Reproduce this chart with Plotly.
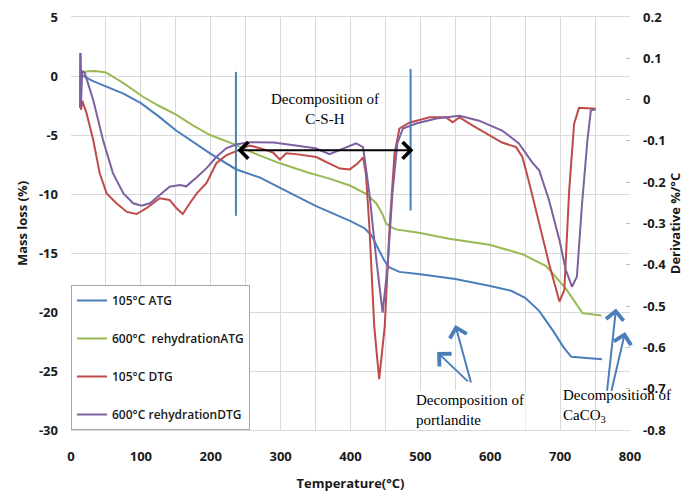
import plotly.graph_objects as go

# --- Data ---
atg105_x = [13, 15, 30, 50, 75, 100, 125, 150, 175, 200, 236, 270, 300, 350, 400, 420,
            430, 440, 448, 455, 470, 500, 550, 600, 630, 650, 670, 690, 705, 716, 740, 760]
atg105_y = [0.2, 0.1, -0.4, -0.9, -1.5, -2.3, -3.4, -4.6, -5.6, -6.6, -7.9, -8.6, -9.5,
            -11.0, -12.3, -12.9, -13.5, -14.6, -15.6, -16.2, -16.6, -16.8, -17.2, -17.8,
            -18.2, -18.8, -19.9, -21.6, -23.0, -23.8, -23.9, -24.0]

atg600_x = [13, 15, 25, 35, 50, 75, 103, 125, 151, 175, 199, 234, 260, 299, 340, 370, 400,
            423, 437, 445, 451, 458, 465, 500, 541, 599, 646, 680, 708, 732, 759]
atg600_y = [0.2, 0.3, 0.4, 0.42, 0.3, -0.6, -1.76, -2.5, -3.3, -4.2, -5.0, -5.8, -6.5, -7.4,
            -8.2, -8.7, -9.3, -10.0, -10.8, -11.6, -12.5, -12.8, -13.0, -13.3, -13.8, -14.3,
            -15.1, -16.1, -18.0, -20.1, -20.3]

dtg105_x = [13, 13.5, 14.5, 16, 22, 32, 41, 51, 65, 80, 94, 108, 127, 141, 151, 160, 170,
            180, 194, 208, 222, 237, 256, 275, 289, 299, 308, 322, 351, 370, 385, 399, 410,
            418, 422, 427, 434, 441, 449, 456, 463, 470, 484, 513, 527, 537, 546, 556, 575,
            599, 617, 637, 646, 656, 670, 684, 699, 706, 713, 720, 727, 751]
dtg105_y = [-0.02, 0.113, -0.025, -0.003, -0.031, -0.099, -0.178, -0.227, -0.251, -0.272,
            -0.277, -0.263, -0.239, -0.243, -0.263, -0.277, -0.251, -0.227, -0.202, -0.154,
            -0.135, -0.125, -0.111, -0.12, -0.128, -0.145, -0.130, -0.132, -0.139, -0.155,
            -0.167, -0.169, -0.155, -0.140, -0.179, -0.307, -0.549, -0.677, -0.549, -0.308,
            -0.131, -0.07, -0.056, -0.043, -0.043, -0.043, -0.055, -0.043, -0.063, -0.087,
            -0.104, -0.115, -0.139, -0.203, -0.300, -0.396, -0.489, -0.461, -0.219, -0.059,
            -0.020, -0.022]

dtg600_x = [13, 13.5, 14.5, 16, 20, 32, 46, 60, 75, 89, 101, 113, 127, 141, 156, 165, 180,
            194, 208, 222, 237, 256, 290, 322, 350, 370, 385, 408, 418, 427, 437, 446, 453,
            460, 467, 475, 494, 523, 556, 584, 617, 641, 660, 670, 684, 699, 708, 717, 724,
            731, 739, 744, 751]
dtg600_y = [-0.02, 0.113, -0.002, 0.07, 0.063, -0.002, -0.099, -0.178, -0.227, -0.251,
            -0.257, -0.251, -0.231, -0.211, -0.207, -0.210, -0.188, -0.166, -0.139, -0.118,
            -0.108, -0.103, -0.104, -0.111, -0.118, -0.132, -0.121, -0.106, -0.115, -0.227,
            -0.388, -0.516, -0.405, -0.227, -0.106, -0.07, -0.058, -0.046, -0.039, -0.051,
            -0.075, -0.106, -0.152, -0.171, -0.243, -0.340, -0.412, -0.453, -0.429, -0.260,
            -0.099, -0.026, -0.024]

y_ticks = [5, 0, -5, -10, -15, -20, -25, -30]
y_labels = ["5", "0", "-5", "-10", "-15", "-20", "-25", "-30"]
y2_ticks = [0.2, 0.1, 0, -0.1, -0.2, -0.3, -0.4, -0.5, -0.6, -0.7, -0.8]
y2_labels = ["0.2", "0.1", "0", "-0.1", "-0.2", "-0.3", "-0.4", "-0.5", "-0.6", "-0.7", "-0.8"]

BLUE = "#4a7ebb"
GREEN = "#98b954"
RED = "#be4b48"
PURPLE = "#7d60a0"
GRID = "#d9d9d9"
FONT = "Open Sans"

fig = go.Figure()
fig.add_trace(go.Scatter(x=atg105_x, y=atg105_y, name="105°C ATG", legendgroup="a",
                         mode="lines", line=dict(color=BLUE, width=2)))
fig.add_trace(go.Scatter(x=atg600_x, y=atg600_y, name="600°C  rehydrationATG", legendgroup="b",
                         mode="lines", line=dict(color=GREEN, width=2)))
fig.add_trace(go.Scatter(x=dtg105_x, y=dtg105_y, name="105°C DTG", legendgroup="c",
                         mode="lines", line=dict(color=RED, width=2), yaxis="y2"))
fig.add_trace(go.Scatter(x=dtg600_x, y=dtg600_y, name="600°C rehydrationDTG", legendgroup="d",
                         mode="lines", line=dict(color=PURPLE, width=2), yaxis="y2"))

# vertical markers for the C-S-H range
fig.add_shape(type="line", xref="x", yref="y", x0=236, x1=236, y0=0.35, y1=-11.85,
              line=dict(color=BLUE, width=2))
fig.add_shape(type="line", xref="x", yref="y", x0=486, x1=486, y0=0.6, y1=-11.4,
              line=dict(color=BLUE, width=2))

# double-headed arrow
fig.add_annotation(x=490, y=-6.3, ax=236, ay=-6.3, xref="x", yref="y", axref="x", ayref="y",
                   text="", showarrow=True, arrowside="end+start", arrowhead=4,
                   startarrowhead=4, arrowsize=1.6, startarrowsize=1.6, arrowwidth=2,
                   arrowcolor="black")

# hand-drawn blue arrows
for hx, hy, tx, ty in [(550, -21.1, 573, -26.1), (524, -23.4, 570, -26.0),
                       (780, -19.7, 767, -26.8), (793, -21.7, 773, -26.8)]:
    fig.add_annotation(x=hx, y=hy, ax=tx, ay=ty, xref="x", yref="y", axref="x", ayref="y",
                       text="", showarrow=True, arrowhead=4, arrowsize=1.7, arrowwidth=2,
                       arrowcolor=BLUE)

serif = dict(family="Liberation Serif", size=15, color="black")
fig.add_annotation(x=363, y=-2.8, xref="x", yref="y", text="Decomposition of<br>C-S-H",
                   showarrow=False, font=serif, align="center")
fig.add_annotation(x=491, y=-28.3, xref="x", yref="y", text="Decomposition of<br>portlandite",
                   showarrow=False, font=serif, align="left", xanchor="left", bgcolor="white")
fig.add_annotation(x=701, y=-28.0, xref="x", yref="y", text="Decomposition of<br>CaCO<sub>3</sub>",
                   showarrow=False, font=serif, align="left", xanchor="left")

tick_font = dict(family=FONT, size=13, color="#1a1a1a", weight="bold")
title_font = dict(family=FONT, size=13, color="#1a1a1a", weight="bold")

# page has an 8px body margin, so the figure is drawn 8px smaller than the window
fig.update_layout(
    width=689, height=487,
    margin=dict(l=63, r=67, t=9, b=65),
    paper_bgcolor="white", plot_bgcolor="white",
    showlegend=True,
    legend=dict(x=0, y=0, xanchor="left", yanchor="bottom", bgcolor="white",
                bordercolor="#a6a6a6", borderwidth=1, tracegroupgap=19, itemwidth=30,
                font=dict(family=FONT, size=12, color="#1a1a1a", weight=600)),
    xaxis=dict(range=[0, 800], tick0=0, dtick=100, showgrid=True, gridcolor=GRID,
               minor=dict(dtick=50, showgrid=True, gridcolor=GRID),
               zeroline=False, showline=True, linecolor=GRID, mirror=True,
               tickfont=tick_font, ticklabelstandoff=14, automargin=False,
               title=dict(text="Temperature(°C)", font=title_font, standoff=15)),
    yaxis=dict(range=[-30, 5], tickvals=y_ticks, ticktext=y_labels, showgrid=True,
               gridcolor=GRID, zeroline=False, tickfont=tick_font, ticklabelstandoff=12,
               automargin=False, ticklabeloverflow="allow",
               title=dict(text="Mass loss (%)", font=title_font, standoff=8)),
    yaxis2=dict(range=[-0.8, 0.2], tickvals=y2_ticks, ticktext=y2_labels, overlaying="y",
                side="right", showgrid=False, zeroline=False, ticks="inside", ticklen=4,
                tickcolor="#bfbfbf", tickfont=tick_font, ticklabelstandoff=12,
                automargin=False, ticklabeloverflow="allow",
                title=dict(text="Derivative %/°C", font=title_font, standoff=4)),
)

fig.write_html("out.html")
